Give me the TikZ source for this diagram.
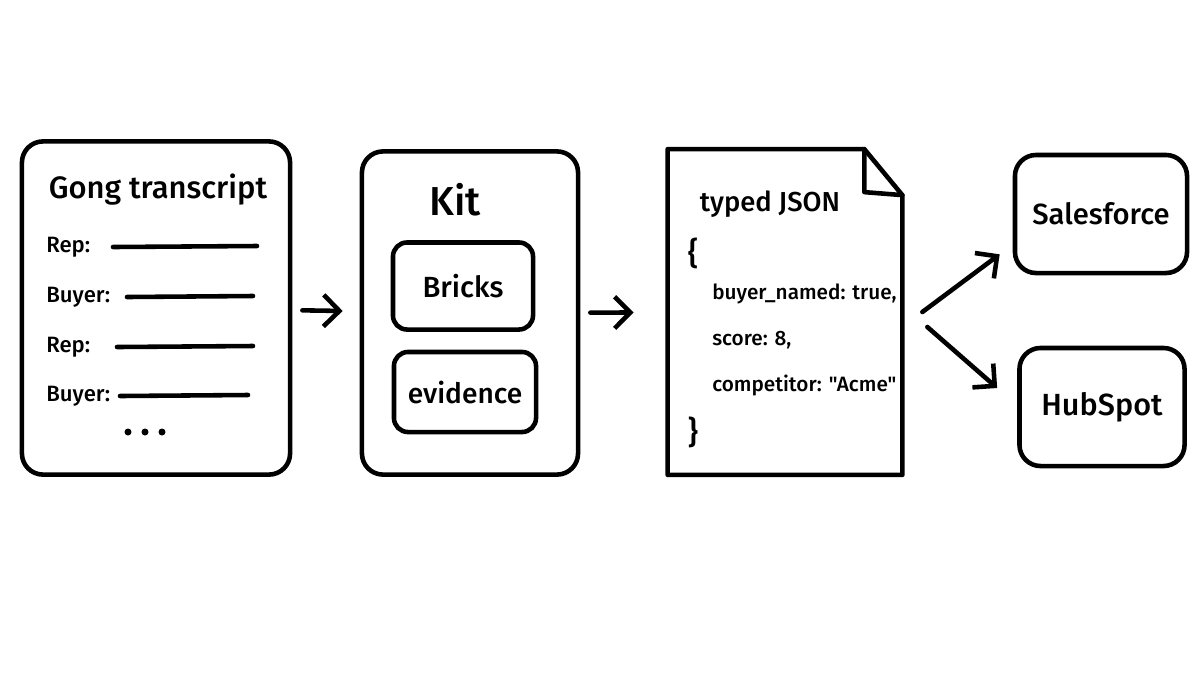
\documentclass[tikz,border=0pt]{standalone}
\usepackage{fontspec}
\setmainfont{Fira Sans}[UprightFont={* Medium}]
\newfontfamily\jsonfont{Fira Sans}[UprightFont={* Medium}, Ligatures=TeXOff]
\usetikzlibrary{arrows.meta}
\tikzset{>={Straight Barb[length=4.5pt,width=9pt]}}
\tikzset{box/.style={draw, rounded corners=6pt, inner sep=0pt}}
\tikzset{inbox/.style={draw, rounded corners=4pt, inner sep=0pt}}

\begin{document}
\begin{tikzpicture}[x=0.01cm, y=-0.01cm, line width=1.3pt, line cap=round, line join=round]
     \useasboundingbox (0,0) rectangle (1200,675);
     % transcript
     \node[box, minimum width=2.68cm, minimum height=3.33cm] (gong) at (156,308) {};
     \node (gongtitle) at (158,190) {\fontsize{8.8}{11}\selectfont Gong transcript};
     \foreach \y/\who/\a/\b in {247/Rep:/113/257, 297/Buyer:/127/253, 347/Rep:/117/253, 396/Buyer:/120/248}
          {\node[anchor=west, inner sep=0pt] at (44,\y) {\fontsize{6.3}{8}\selectfont\who};
           \draw (\a,\y) -- (\b,\y-1);}
     \foreach \x in {128,145,162} \fill (\x,432) circle (3.5);
     % kit
     \node[box, minimum width=2.16cm, minimum height=3.23cm] (kit) at (470,313) {};
     \node (kittitle) at (455,200) {\fontsize{11.5}{14}\selectfont Kit};
     \node[inbox, minimum width=1.40cm, minimum height=0.87cm] (bricks) at (463,286) {\fontsize{8.3}{10}\selectfont Bricks};
     \node[inbox, minimum width=1.42cm, minimum height=0.80cm] (evidence) at (465,392) {\fontsize{8}{10}\selectfont evidence};
     % json
     \node[minimum width=2.30cm, minimum height=3.21cm, inner sep=0pt] (json) at (785,312) {};
     \draw (json.north west) -- ([shift={(-38,0)}]json.north east) -- ([shift={(0,46)}]json.north east)
          -- (json.south east) -- (json.south west) -- cycle;
     \draw ([shift={(-38,0)}]json.north east) -- ([shift={(-38,43)}]json.north east) -- ([shift={(0,46)}]json.north east);
     \node (jsontitle) at (770,204) {\fontsize{7.8}{10}\selectfont typed JSON};
     \node (jopen) at (693,253) {\fontsize{9}{11}\selectfont\{};
     \node[anchor=west, inner sep=0pt] (f1) at (710,294) {\fontsize{5.9}{8}\selectfont buyer\_named: true,};
     \node[anchor=west, inner sep=0pt] (f2) at (710,340) {\fontsize{5.9}{8}\selectfont score: 8,};
     \node[anchor=west, inner sep=0pt] (f3) at (710,385) {\fontsize{5.9}{8}\selectfont competitor: {\jsonfont"Acme"}};
     \node (jclose) at (693,432) {\fontsize{9}{11}\selectfont\}};
     % targets
     \node[box, minimum width=1.72cm, minimum height=1.18cm] (sf) at (1101,214) {\fontsize{8.3}{10}\selectfont Salesforce};
     \node[box, minimum width=1.65cm, minimum height=1.18cm] (hs) at (1102,407) {\fontsize{8.7}{10}\selectfont HubSpot};
     % arrows
     \draw[->, shorten <=0.1cm, shorten >=0.17cm] (gong) -- (kit);
     \draw[->, shorten <=0.1cm, shorten >=0.34cm] (kit) -- (json);
     \draw[->] ([shift={(20,0)}]json.east) -- ([shift={(-13,-21)}]sf.south west);
     \draw[->] ([shift={(25,15)}]json.east) -- ([shift={(-20,-19)}]hs.west);
\end{tikzpicture}
\end{document}
